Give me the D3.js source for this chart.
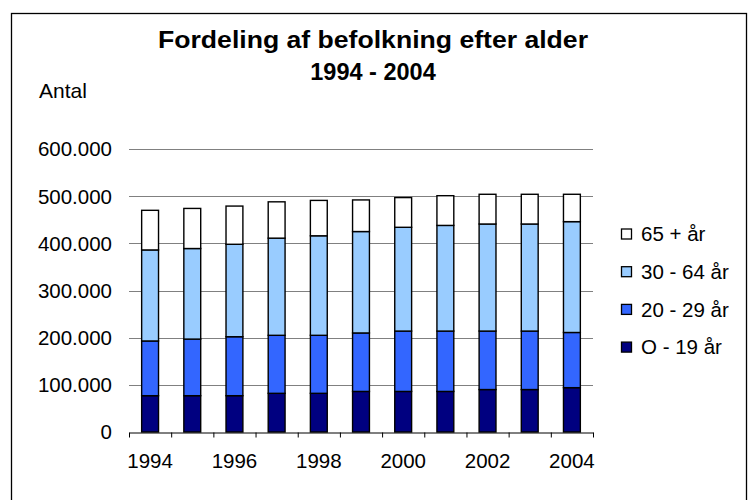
<!DOCTYPE html>
<html>
<head>
<meta charset="utf-8">
<script src="https://cdn.jsdelivr.net/npm/d3@7"></script>
<style>
  body { margin: 0; background: #fff; }
  text { font-family: "Liberation Sans", Arial, sans-serif; fill: #000; }
</style>
</head>
<body>
<svg id="chart"></svg>
<script>
// values (persons)
var years = [1994, 1995, 1996, 1997, 1998, 1999, 2000, 2001, 2002, 2003, 2004];
var age0_19  = [77000, 77000, 77000, 82000, 82000, 86000, 86000, 86000, 90000, 90000, 94000];
var age20_29 = [116000, 120000, 125000, 123000, 123000, 124000, 128000, 128000, 124000, 124000, 117000];
var age30_64 = [193000, 192000, 196000, 206000, 211000, 215000, 220000, 224000, 227000, 227000, 235000];
var age65    = [84000, 85000, 81000, 77000, 75000, 67000, 63000, 63000, 63000, 63000, 58000];

var seriesNames = ["O - 19 år", "20 - 29 år", "30 - 64 år", "65 + år"];
var seriesColors = ["#000080", "#3366ff", "#99ccff", "#ffffff"];
var yTicks = [0, 100000, 200000, 300000, 400000, 500000, 600000];
var xLabelYears = [1994, 1996, 1998, 2000, 2002, 2004];

var width = 748,
    height = 500;

var svg = d3.select("#chart")
    .attr("width", width)
    .attr("height", height);

svg.append("rect")
    .attr("width", width).attr("height", height)
    .attr("fill", "#fff");

// outer frame
svg.append("rect")
    .attr("x", 11.5).attr("y", 13.5)
    .attr("width", 735).attr("height", 520)
    .attr("fill", "none")
    .attr("stroke", "#000")
    .attr("stroke-width", 1.3);

var rows = years.map(function(y, i) {
  var r = {year: y};
  r[seriesNames[0]] = age0_19[i];
  r[seriesNames[1]] = age20_29[i];
  r[seriesNames[2]] = age30_64[i];
  r[seriesNames[3]] = age65[i];
  return r;
});

var plotLeft = 129, plotRight = 593, plotTop = 149, plotBottom = 432;

var x = d3.scaleBand()
    .domain(years)
    .range([plotLeft, plotRight])
    .paddingInner(0.6)
    .paddingOuter(0.3);

var xEdge = d3.scaleLinear()
    .domain([0, years.length])
    .range([plotLeft, plotRight]);

var y = d3.scaleLinear()
    .domain([0, 600000])
    .range([plotBottom, plotTop]);

var color = d3.scaleOrdinal().domain(seriesNames).range(seriesColors);

var dk = d3.formatLocale({decimal: ",", thousands: ".", grouping: [3], currency: ["", " kr."]});
var fmt = dk.format(",");

// gridlines
svg.append("g")
  .selectAll("line")
  .data(yTicks.filter(function(d) { return d > 0; }))
  .enter().append("line")
    .attr("x1", plotLeft).attr("x2", plotRight)
    .attr("y1", function(d) { return Math.round(y(d)) + 0.5; })
    .attr("y2", function(d) { return Math.round(y(d)) + 0.5; })
    .attr("stroke", "#808080")
    .attr("stroke-width", 1);

// y labels
svg.append("g")
  .selectAll("text")
  .data(yTicks)
  .enter().append("text")
    .attr("x", 112)
    .attr("y", function(d) { return y(d); })
    .attr("dy", "0.36em")
    .attr("text-anchor", "end")
    .style("font-size", "20.5px")
    .text(function(d) { return fmt(d); });

// stacked bars
var stacked = d3.stack().keys(seriesNames)(rows);

svg.append("g")
  .selectAll("g")
  .data(stacked)
  .enter().append("g")
    .attr("fill", function(d) { return color(d.key); })
  .selectAll("rect")
  .data(function(d) { return d; })
  .enter().append("rect")
    .attr("x", function(d) { return x(d.data.year); })
    .attr("y", function(d) { return y(d[1]); })
    .attr("width", x.bandwidth())
    .attr("height", function(d) { return y(d[0]) - y(d[1]); })
    .attr("stroke", "#000")
    .attr("stroke-width", 1.4);

// x axis with ticks between categories
var xAxis = svg.append("g")
    .attr("transform", "translate(0," + (plotBottom + 0.5) + ")")
    .call(d3.axisBottom(xEdge)
      .tickValues(d3.range(0, years.length + 1))
      .tickSize(5)
      .tickSizeOuter(0)
      .tickFormat(""));
xAxis.select(".domain").attr("stroke", "#000");
xAxis.selectAll(".tick line").attr("stroke", "#000");

svg.append("g")
  .selectAll("text")
  .data(xLabelYears)
  .enter().append("text")
    .attr("x", function(d) { return x(d) + x.bandwidth() / 2; })
    .attr("y", 468)
    .attr("text-anchor", "middle")
    .style("font-size", "20.5px")
    .text(function(d) { return d; });

// titles
svg.append("text")
    .attr("x", 373).attr("y", 48)
    .attr("text-anchor", "middle")
    .attr("textLength", 430)
    .attr("lengthAdjust", "spacingAndGlyphs")
    .style("font-size", "24px")
    .style("font-weight", "bold")
    .text("Fordeling af befolkning efter alder");

svg.append("text")
    .attr("x", 373).attr("y", 80)
    .attr("text-anchor", "middle")
    .style("font-size", "23.5px")
    .style("font-weight", "bold")
    .text("1994 - 2004");

svg.append("text")
    .attr("x", 39).attr("y", 98)
    .style("font-size", "21px")
    .text("Antal");

// legend, top to bottom: 65+, 30-64, 20-29, 0-19
var legend = svg.append("g")
  .selectAll("g")
  .data(seriesNames.slice().reverse())
  .enter().append("g")
    .attr("transform", function(d, i) { return "translate(621," + (234 + i * 37.7) + ")"; });

legend.append("rect")
    .attr("x", 0.5).attr("y", -5)
    .attr("width", 10).attr("height", 10)
    .attr("fill", function(d) { return color(d); })
    .attr("stroke", "#000")
    .attr("stroke-width", 1.3);

legend.append("text")
    .attr("x", 20)
    .attr("dy", "0.36em")
    .style("font-size", "20.5px")
    .text(function(d) { return d; });
</script>
</body>
</html>
